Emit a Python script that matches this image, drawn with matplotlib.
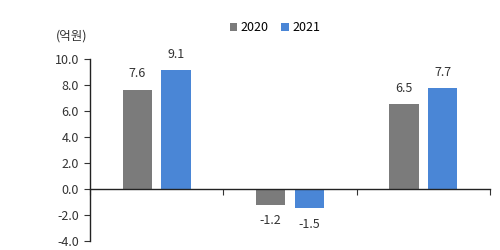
import matplotlib
matplotlib.use('Agg')
import matplotlib.pyplot as plt
import numpy as np

plt.rcParams['font.family'] = ['Noto Sans CJK KR', 'DejaVu Sans']

# 데이터
categories = ['A', 'B', 'C']
years = ['2020', '2021']
values_2020 = [7.6, -1.2, 6.5]
values_2021 = [9.1, -1.5, 7.7]
COLORS = ['#7b7b7b', '#4a86d6']

fig = plt.figure(figsize=(5, 2.5), dpi=100)
ax = fig.add_axes([0.18, 0.036, 0.80, 0.73])

x = np.arange(len(categories))
w = 0.22
off = 0.146
for i, (vals, yr) in enumerate(zip([values_2020, values_2021], years)):
    pos = x + (-off if i == 0 else off)
    bars = ax.bar(pos, vals, width=w, color=COLORS[i], label=yr, zorder=2)
    for b, v in zip(bars, vals):
        dy = 11.5 if v >= 0 else -11.5
        ax.annotate(f"{v:.1f}", (b.get_x() + b.get_width() / 2, v),
                    xytext=(0, dy), textcoords='offset points',
                    ha='center', va='center', fontsize=9, color='#333333')

ax.set_xlim(-0.5, 2.5)
ax.set_ylim(-4, 10)
ax.set_yticks(np.arange(-4, 10.1, 2))
ax.set_yticklabels([f"{t:.1f}" for t in np.arange(-4, 10.1, 2)])
ax.set_xticks([-0.5, 0.5, 1.5, 2.5])
ax.set_xticklabels([])

ax.spines['top'].set_visible(False)
ax.spines['right'].set_visible(False)
ax.spines['bottom'].set_position(('data', 0))
ax.spines['bottom'].set_zorder(3)
ax.tick_params(axis='y', direction='out', length=4, labelsize=9, colors='#333333', pad=4)
ax.tick_params(axis='x', direction='out', length=4, colors='#333333')
for s in ['left', 'bottom']:
    ax.spines[s].set_color('#222222')
    ax.spines[s].set_linewidth(1)

fig.text(0.144, 0.855, '(억원)', ha='center', va='center', fontsize=9, color='#333333')
fig.legend(loc='center', bbox_to_anchor=(0.55, 0.89), ncol=2, frameon=False,
           handlelength=0.6, handleheight=0.6, columnspacing=1.0, handletextpad=0.3,
           fontsize=9)

plt.savefig('out.png', dpi=100, facecolor='white')
plt.close(fig)
